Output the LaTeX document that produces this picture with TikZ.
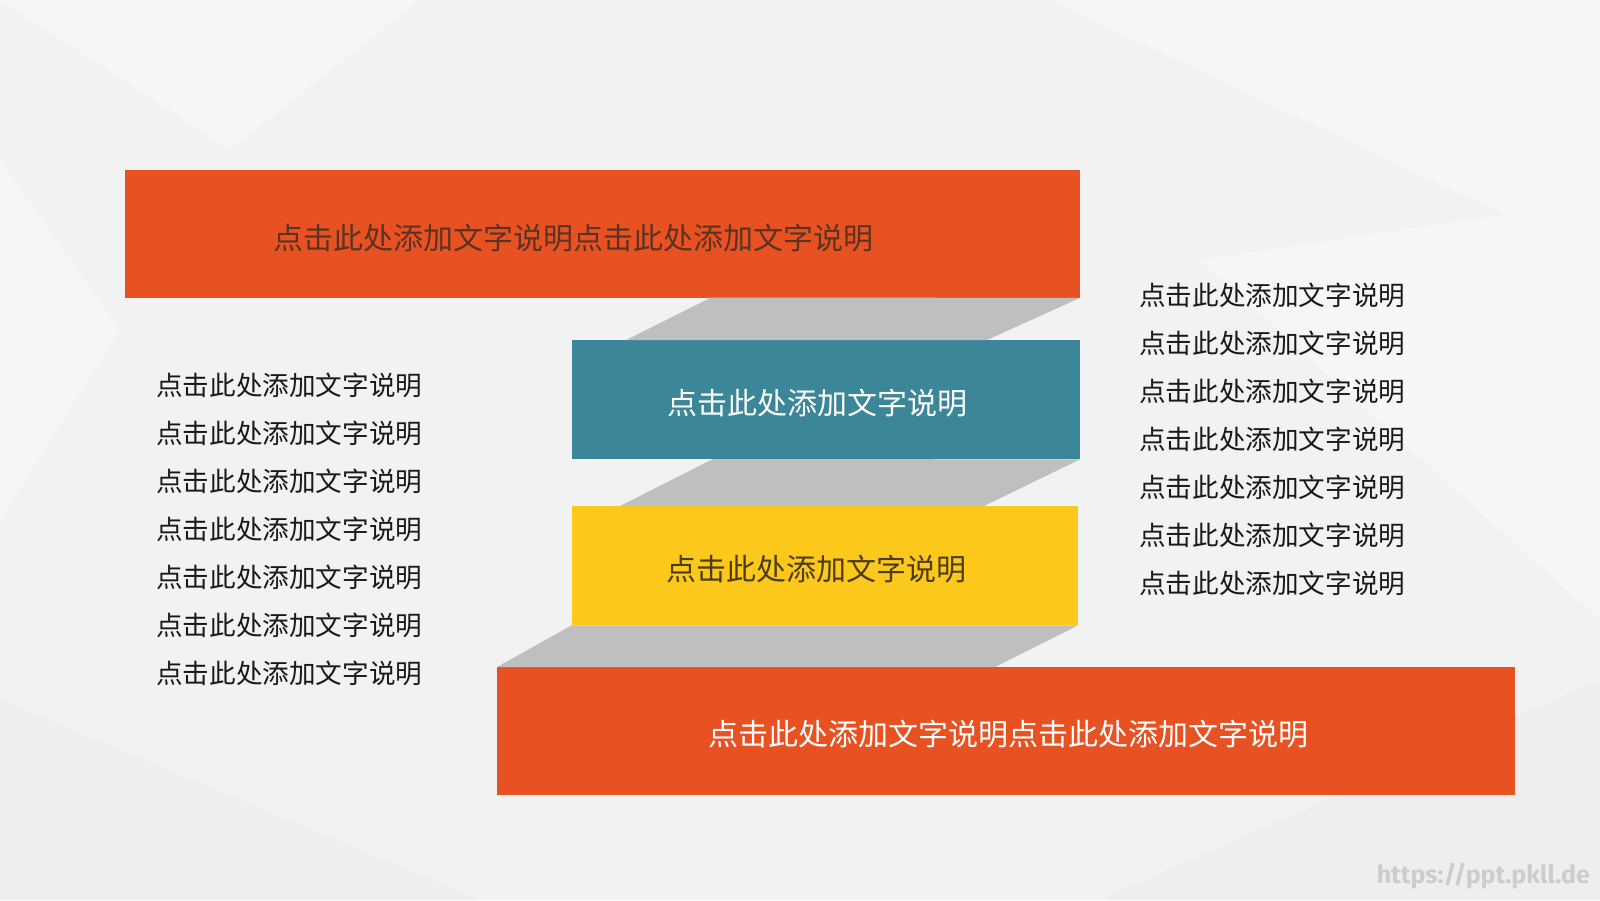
\documentclass[tikz,border=0pt]{standalone}
\usepackage{fontspec}
\newfontfamily\cjk{Noto Sans CJK SC}
\newfontfamily\wm{Fira Sans}
\definecolor{bgc}{HTML}{F2F2F2}
\definecolor{bgl}{HTML}{F6F6F6}
\definecolor{bgd}{HTML}{EEEEEE}
\definecolor{orangec}{HTML}{E85222}
\definecolor{tealc}{HTML}{3B8698}
\definecolor{yellowc}{HTML}{FCC81B}
\definecolor{grayc}{HTML}{BFBFBF}
\definecolor{darktxt}{HTML}{5A3322}
\definecolor{ytxt}{HTML}{4D3D12}
\definecolor{wmc}{HTML}{CDCDCD}
\begin{document}
\begin{tikzpicture}[x=1pt,y=-1pt,
  bar/.style={draw=none,inner sep=0pt,anchor=north west},
  bartext/.style={font=\cjk\fontsize{30}{36}\selectfont,inner sep=0pt},
  listtext/.style={font=\cjk\fontsize{26.6}{32}\selectfont,text=black!90,inner sep=0pt,anchor=west},
  shade/.style={fill=grayc,draw=none}]
\useasboundingbox (0,0) rectangle (1600,900);
% background
\fill[bgc] (0,0) rectangle (1600,900);
\fill[bgl] (0,0) -- (420,0) -- (230,150) -- cycle;
\fill[bgl] (1050,0) -- (1600,0) -- (1600,260) -- cycle;
\fill[bgd] (0,700) -- (480,900) -- (0,900) -- cycle;
\fill[bgl] (1200,260) -- (1600,200) -- (1600,620) -- cycle;
\fill[bgd] (1100,900) -- (1600,680) -- (1600,900) -- cycle;
\fill[bgl] (0,160) -- (120,330) -- (0,520) -- cycle;
% bars
\node[bar,fill=orangec,minimum width=955pt,minimum height=128pt] (top) at (124.5,169.5) {};
\node[bar,fill=tealc,minimum width=508pt,minimum height=119pt] (teal) at (571.5,340) {};
\node[bar,fill=yellowc,minimum width=506pt,minimum height=119pt] (yel) at (571.5,506) {};
\node[bar,fill=orangec,minimum width=1018pt,minimum height=128pt] (bot) at (497,667) {};
% gray connectors
\fill[shade] (711,297.5) -- (top.south east) -- (987,340) -- (626,340) -- cycle;
\fill[shade] (713,459) -- (teal.south east) -- (984,506) -- (620,506) -- cycle;
\fill[shade] (yel.south west) -- (yel.south east) -- (995,667) -- (bot.north west) -- cycle;
% bar texts
\node[bartext,text=darktxt] (toptxt) at ([shift={(-29,4)}]top.center) {点击此处添加文字说明点击此处添加文字说明};
\node[bartext,text=white] (tealtxt) at ([shift={(-8,3)}]teal.center) {点击此处添加文字说明};
\node[bartext,text=ytxt] (yeltxt) at ([shift={(-8,3)}]yel.center) {点击此处添加文字说明};
\node[bartext,text=white] (bottxt) at ([shift={(2,3)}]bot.center) {点击此处添加文字说明点击此处添加文字说明};
% left list
\foreach \i in {0,...,6}{
  \node[listtext] (l\i) at (156,385+48*\i) {点击此处添加文字说明};
}
% right list
\foreach \i in {0,...,6}{
  \node[listtext] (r\i) at (1139,295+48*\i) {点击此处添加文字说明};
}
% watermark
\node[font=\wm\bfseries\fontsize{25}{30}\selectfont,text=wmc,anchor=east,inner sep=0pt] (wm) at (1590,876) {https://ppt.pkll.de};
\end{tikzpicture}
\end{document}
